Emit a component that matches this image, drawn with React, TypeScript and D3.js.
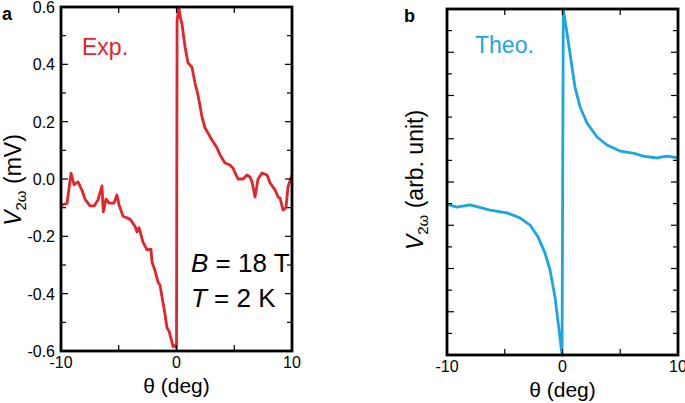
import * as d3 from 'd3'

// panel a: measured signal (theta in deg, V in mV)
const expTheta = [-10, -9.91, -9.48, -9.13, -8.87, -8.53, -8.18, -7.92, -7.49, -7.14, -6.8, -6.45, -6.34, -6.1, -5.84, -5.41, -5.15, -4.98, -4.63, -4.3, -4.03, -3.59, -3.42, -3.25, -2.9, -2.55, -2.21, -2.12, -1.86, -1.6, -1.43, -1.26, -1.0, -0.82, -0.65, -0.39, -0.3, -0.13, 0.0, 0.05, 0.2, 0.35, 0.48, 0.74, 1.0, 1.34, 1.6, 1.86, 2.21, 2.47, 2.73, 3.07, 3.51, 3.77, 4.2, 4.63, 4.89, 5.32, 5.76, 6.1, 6.36, 6.54, 6.8, 7.06, 7.4, 7.84, 8.1, 8.53, 8.79, 8.96, 9.22, 9.48, 9.65, 10.0]
const expV = [-0.09, -0.09, -0.085, 0.02, -0.02, -0.01, -0.04, -0.07, -0.094, -0.094, -0.073, -0.024, -0.115, -0.07, -0.084, -0.084, -0.056, -0.09, -0.13, -0.135, -0.14, -0.165, -0.185, -0.17, -0.22, -0.247, -0.245, -0.29, -0.32, -0.36, -0.37, -0.41, -0.47, -0.52, -0.53, -0.57, -0.585, -0.58, -0.59, 0.55, 0.6, 0.56, 0.54, 0.46, 0.405, 0.39, 0.335, 0.293, 0.216, 0.178, 0.16, 0.136, 0.108, 0.084, 0.056, 0.049, 0.038, 0.0, 0.0, 0.014, 0.007, -0.01, -0.063, 0.0, 0.021, 0.014, -0.014, -0.038, -0.063, -0.066, -0.108, -0.1, -0.028, 0.014]

// panel b: theory (arbitrary units)
const theoTheta = [-10, -9.16, -8.0, -6.28, -4.81, -3.68, -2.81, -2.12, -1.52, -1.08, -0.65, -0.3, -0.04, 0.07, 0.48, 0.82, 1.08, 1.52, 2.12, 2.99, 3.85, 4.98, 6.1, 6.97, 8.18, 9.05, 10]
const theoV = [-1.02, -1.16, -1.06, -1.3, -1.43, -1.66, -1.99, -2.54, -3.28, -4.07, -5.32, -6.84, -8.0, 8.0, 6.57, 5.32, 4.39, 3.47, 2.73, 2.08, 1.71, 1.43, 1.34, 1.2, 1.11, 1.2, 1.11]

const xTicks = [-10, -5, 0, 5, 10]
const xLabels = [-10, 0, 10]
const expYTicks = [-0.6, -0.5, -0.4, -0.3, -0.2, -0.1, 0, 0.1, 0.2, 0.3, 0.4, 0.5, 0.6]
const expYLabels = [-0.6, -0.4, -0.2, 0, 0.2, 0.4, 0.6]

const FONT = 'Liberation Sans, Arial, sans-serif'
const RED = '#e3242b'
const BLUE = '#1aa7df'

type PanelProps = {
  left: number; right: number; top: number; bottom: number
  xs: number[]; ys: number[]; yDomain: [number, number]
  yTicks: number[]; yLabels: number[]; color: string
  letter: string; letterX: number; tag: string; tagX: number; tagY: number
  unit: string; yLabelX: number; yLabelY: number
}

const Panel = (p: PanelProps) => {
  const { left, right, top, bottom, xs, ys, yDomain, yTicks, yLabels, color } = p
  const x = d3.scaleLinear().domain([-10, 10]).range([left, right])
  const y = d3.scaleLinear().domain(yDomain).range([bottom, top])
  const line = d3.line<number>().x((d, i) => x(xs[i])).y(d => y(d))
  const isMajor = (v: number) => yLabels.length ? yLabels.some(l => Math.abs(l - v) < 1e-6) : Math.round(v) % 2 === 0

  return (
    <g>
      <path d={line(ys) || ''} fill="none" stroke={color} strokeWidth={2.8} strokeLinejoin="round" />
      {xTicks.map(t => (
        <g key={'x' + t} stroke="#000" strokeWidth={1.2}>
          <line x1={x(t)} x2={x(t)} y1={bottom} y2={bottom - 6} />
          <line x1={x(t)} x2={x(t)} y1={top} y2={top + 6} />
        </g>
      ))}
      {yTicks.map(t => {
        const len = isMajor(t) ? 7 : 5
        return (
          <g key={'y' + t} stroke="#000" strokeWidth={1.2}>
            <line x1={left} x2={left + len} y1={y(t)} y2={y(t)} />
            <line x1={right} x2={right - len} y1={y(t)} y2={y(t)} />
          </g>
        )
      })}
      <rect x={left} y={top} width={right - left} height={bottom - top} fill="none" stroke="#000" strokeWidth={2.8} />
      {xLabels.map(t => (
        <text key={'xl' + t} x={x(t)} y={bottom + 17} textAnchor="middle" fontSize={16} fontFamily={FONT}>{t}</text>
      ))}
      {yLabels.map(t => (
        <text key={'yl' + t} x={left - 6} y={y(t) + 6} textAnchor="end" fontSize={16} fontFamily={FONT}>{t.toFixed(1)}</text>
      ))}
      <text x={(left + right) / 2} y={bottom + 42} textAnchor="middle" fontSize={21} fontFamily={FONT}>θ (deg)</text>
      <text transform={`translate(${p.yLabelX},${p.yLabelY}) rotate(-90)`} textAnchor="middle" fontSize={23} fontFamily={FONT}>
        <tspan fontStyle="italic">V</tspan>
        <tspan fontSize={15} dy={5}>2ω</tspan>
        <tspan dy={-5}>{' ' + p.unit}</tspan>
      </text>
      <text x={p.letterX} y={top + 13} fontSize={18} fontWeight="bold" fontFamily={FONT}>{p.letter}</text>
      <text x={p.tagX} y={p.tagY} fontSize={23} fill={color} fontFamily={FONT}>{p.tag}</text>
    </g>
  )
}

export default function App() {
  const theoTicks = d3.range(-8, 9, 1)
  return (
    <svg width={685} height={403} style={{ position: 'absolute', left: 0, top: 0, background: '#fff' }}>
      <Panel left={61} right={292} top={7} bottom={351} xs={expTheta} ys={expV} yDomain={[-0.6, 0.6]}
        yTicks={expYTicks} yLabels={expYLabels} color={RED} letter="a" letterX={2}
        tag="Exp." tagX={82} tagY={55} unit="(mV)" yLabelX={21} yLabelY={180} />
      <Panel left={447} right={678} top={9} bottom={355} xs={theoTheta} ys={theoV} yDomain={[-8, 8]}
        yTicks={theoTicks} yLabels={[]} color={BLUE} letter="b" letterX={404}
        tag="Theo." tagX={475} tagY={53} unit="(arb. unit)" yLabelX={423} yLabelY={180} />
      <text x={191} y={272} fontSize={26} fontFamily={FONT}><tspan fontStyle="italic">B</tspan> = 18 T</text>
      <text x={191} y={307} fontSize={26} fontFamily={FONT}><tspan fontStyle="italic">T</tspan> = 2 K</text>
    </svg>
  )
}
